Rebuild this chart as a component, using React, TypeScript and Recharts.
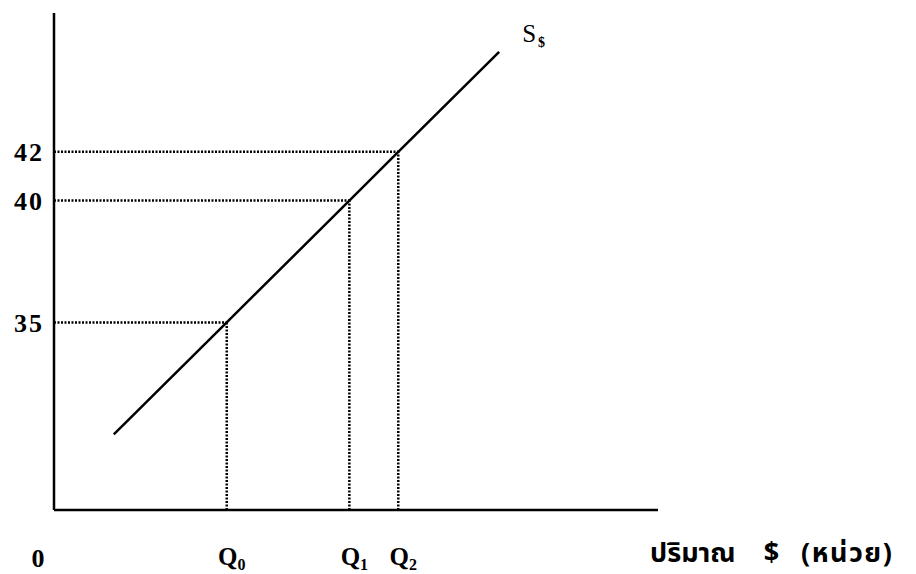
import { LineChart, Line, XAxis, YAxis, ReferenceLine, ReferenceDot } from "recharts";

// supply curve S$ (quantity, price)
const quantity = [9.9, 28.6, 48.9, 57.0, 73.7];
const price = [30.4, 35, 40, 42, 46.1];

// marked equilibrium points
const markedPrices = [35, 40, 42];
const markedQuantities = [28.6, 48.9, 57.0];
const qSubscripts = ["0", "1", "2"];

const xTitle = ["ปริมาณ", "$", "(หน่วย)"];
const curveName = "S";
const curveSub = "$";

const data = quantity.map((q, i) => ({ q, p: price[i] }));

const Y_MIN = 27.3;
const Y_MAX = 47.7;
const serif = "'Liberation Serif', 'DejaVu Serif', serif";

const XTick = (props: any) => {
  const { x, y, payload } = props;
  const i = markedQuantities.indexOf(payload.value);
  if (i < 0) {
    return (
      <text x={x - 16} y={y + 57} textAnchor="middle" fontFamily={serif} fontWeight="bold" fontSize={26} fill="#000">
        0
      </text>
    );
  }
  return (
    <text x={x + 5} y={y + 55} textAnchor="middle" fontFamily={serif} fontWeight="bold" fontSize={25} fill="#000">
      <tspan>Q</tspan>
      <tspan fontSize={16} dy={5}>{qSubscripts[i]}</tspan>
    </text>
  );
};

const XTitle = (props: any) => {
  const vb = props.viewBox || {};
  const right = (vb.x ?? 54) + (vb.width ?? 604);
  return (
    <text x={right - 8} y={562} fontFamily="'Noto Sans Thai', 'Noto Sans', 'DejaVu Sans', sans-serif" fontWeight="bold" fontSize={27} fill="#000">
      <tspan>{xTitle[0]}</tspan>
      <tspan dx={28}>{xTitle[1]}</tspan>
      <tspan dx={22} letterSpacing={1.5}>{xTitle[2]}</tspan>
    </text>
  );
};

const CurveLabel = (props: any) => {
  const vb = props.viewBox || {};
  const cx = vb.x ?? 0;
  const cy = vb.y ?? 0;
  return (
    <text x={cx + 23} y={cy - 10} fontFamily={serif} fontSize={25} fill="#000">
      <tspan>{curveName}</tspan>
      <tspan fontSize={14} fontWeight="bold" dy={5} dx={2}>{curveSub}</tspan>
    </text>
  );
};

export default function App() {
  const last = data[data.length - 1];
  return (
    <div style={{ position: "absolute", left: 0, top: 0, background: "#fff" }}>
      <LineChart width={916} height={574} data={data} margin={{ top: 13, right: 258, bottom: 0, left: 0 }}>
        <XAxis
          dataKey="q"
          type="number"
          domain={[0, 100]}
          ticks={[0, ...markedQuantities]}
          allowDataOverflow
          height={64}
          axisLine={{ stroke: "#000", strokeWidth: 2.5 }}
          tickLine={false}
          tickSize={0}
          tickMargin={0}
          tick={<XTick />}
          interval={0}
          label={<XTitle />}
        />
        <YAxis
          type="number"
          domain={[Y_MIN, Y_MAX]}
          ticks={markedPrices}
          allowDataOverflow
          width={54}
          axisLine={{ stroke: "#000", strokeWidth: 2.5 }}
          tickLine={false}
          tickSize={0}
          tickMargin={10}
          interval={0}
          tick={{ fontFamily: serif, fontWeight: "bold", fontSize: 26, fill: "#000", letterSpacing: 2 }}
        />
        {markedPrices.map((p, i) => (
          <ReferenceLine
            key={`h${i}`}
            segment={[{ x: 0, y: p }, { x: markedQuantities[i], y: p }]}
            stroke="#000"
            strokeWidth={2.5}
            strokeDasharray="2 1.5"
            ifOverflow="visible"
          />
        ))}
        {markedPrices.map((p, i) => (
          <ReferenceLine
            key={`v${i}`}
            segment={[{ x: markedQuantities[i], y: Y_MIN }, { x: markedQuantities[i], y: p }]}
            stroke="#000"
            strokeWidth={2.5}
            strokeDasharray="2 1.5"
            ifOverflow="visible"
          />
        ))}
        <Line
          type="linear"
          dataKey="p"
          stroke="#000"
          strokeWidth={2.5}
          dot={false}
          activeDot={false}
          isAnimationActive={false}
        />
        <ReferenceDot x={last.q} y={last.p} r={0} ifOverflow="visible" label={<CurveLabel />} />
      </LineChart>
    </div>
  );
}
